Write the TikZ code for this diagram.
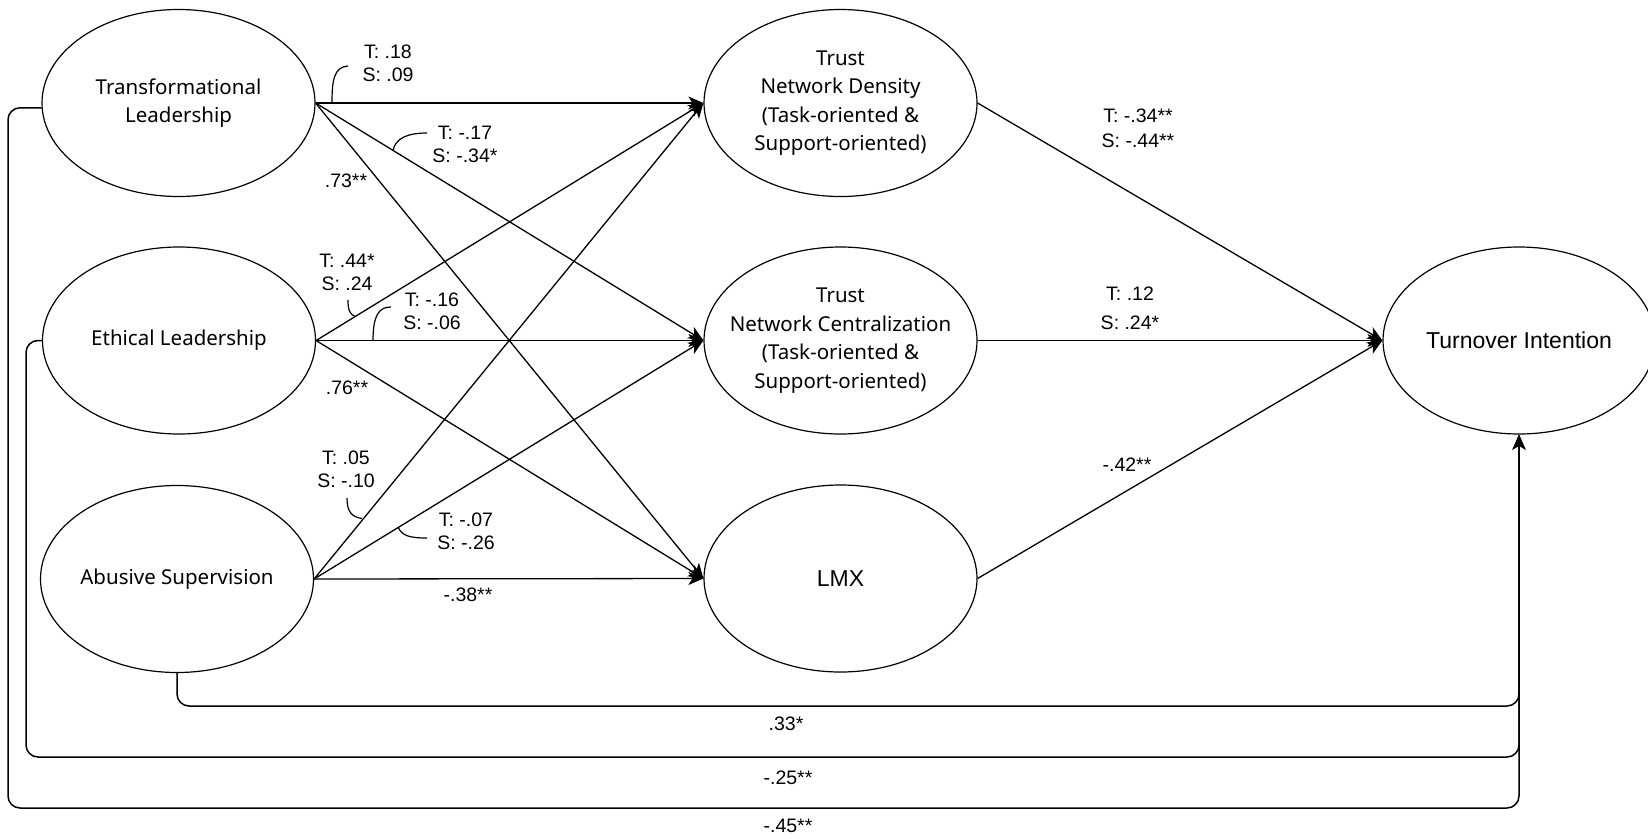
\documentclass[tikz,border=0pt]{standalone}
\usepackage{fontspec}
\setmainfont{Liberation Sans}
\newfontfamily\nodefont{Noto Sans}
\usetikzlibrary{arrows.meta,shapes.geometric}
\begin{document}
\begin{tikzpicture}[x=1pt,y=-1pt,
  var/.style={ellipse, draw, line width=1.2pt, minimum width=273pt, minimum height=187pt, inner sep=0pt, inner xsep=-30pt, align=center, font=\nodefont\fontsize{20.5}{28.5}\selectfont},
  varA/.style={var, font=\fontsize{23}{27}\selectfont},
  arr/.style={line width=1.3pt, -{Stealth[length=15pt,width=13pt,inset=4pt]}},
  lbl/.style={align=center, inner sep=0pt, font=\fontsize{19.5}{23}\selectfont},
  leader/.style={line width=1.2pt},
  loopline/.style={line width=1.5pt, rounded corners=12pt, -{Stealth[length=15pt,width=13pt,inset=4pt]}}
]
\useasboundingbox (0,0) rectangle (1648,838);
\clip (0,0) rectangle (1648,838);

% nodes
\node[var] (TL) at (178.5,103) {Transformational\\Leadership};
\node[var] (EL) at (179,340.5) {Ethical Leadership};
\node[var] (AS) at (177,579) {Abusive Supervision};
\node[var] (TND) at (840.5,103) {Trust\\Network Density\\(Task-oriented \&\\Support-oriented)};
\node[var] (TNC) at (840.5,340.5) {Trust\\Network Centralization\\(Task-oriented \&\\Support-oriented)};
\node[varA] (LMX) at (840.5,578.5) {LMX};
\node[varA, minimum width=272pt] (TI) at (1519,340.5) {Turnover Intention};

% paths from leadership to mediators
\foreach \s in {TL,EL,AS}{
  \foreach \t in {TND,TNC,LMX}{
    \draw[arr] (\s.east) -- (\t.west);
  }
}
% mediators to outcome
\draw[arr] (TND.east) -- (TI.west);
\draw[arr] (TNC.east) -- (TI.west);
\draw[arr] (LMX.east) -- (TI.west);

% direct paths
\draw[loopline] (AS.south) |- (1519,706) -- (TI.south);
\draw[loopline] (EL.west) -| (26,757) -| (TI.south);
\draw[loopline] (TL.182) -| (8,808) -| (TI.south);

% leader curves
\draw[leader] (332,103) .. controls (332,80) and (334,67) .. (348,66);
\draw[leader] (393,151) .. controls (395,138) and (408,133) .. (427,133);
\draw[leader] (348,300) .. controls (348,311) and (350,314) .. (355,316.5);
\draw[leader] (373,341) .. controls (373,315) and (379,307) .. (391,307);
\draw[leader] (347,498) .. controls (347,512) and (352,517) .. (362,518.5);
\draw[leader] (398,527) .. controls (402,536) and (410,538) .. (427,538);

% labels
\node[lbl] (l1) at (388,63) {T: .18\\S: .09};
\node[lbl] (l2) at (465,144) {T: -.17\\S: -.34*};
\node[lbl] (l3) at (346,181) {.73**};
\node[lbl] (l4) at (347,272.5) {T: .44*\\S: .24};
\node[lbl] (l5) at (432,311) {T: -.16\\S: -.06};
\node[lbl] (l6) at (347,388) {.76**};
\node[lbl] (l7) at (346,469.5) {T: .05\\S: -.10};
\node[lbl] (l8) at (466,531.5) {T: -.07\\S: -.26};
\node[lbl] (l9) at (468,595) {-.38**};
\node[lbl, font=\fontsize{19.5}{25}\selectfont] (r1) at (1138,128.5) {T: -.34**\\S: -.44**};
\node[lbl, font=\fontsize{19.5}{29}\selectfont] (r2) at (1130,308) {T: .12\\S: .24*};
\node[lbl] (r3) at (1127,465) {-.42**};
\node[lbl] (b1) at (786,724) {.33*};
\node[lbl] (b2) at (788,778) {-.25**};
\node[lbl] (b3) at (788,826) {-.45**};
\end{tikzpicture}
\end{document}
